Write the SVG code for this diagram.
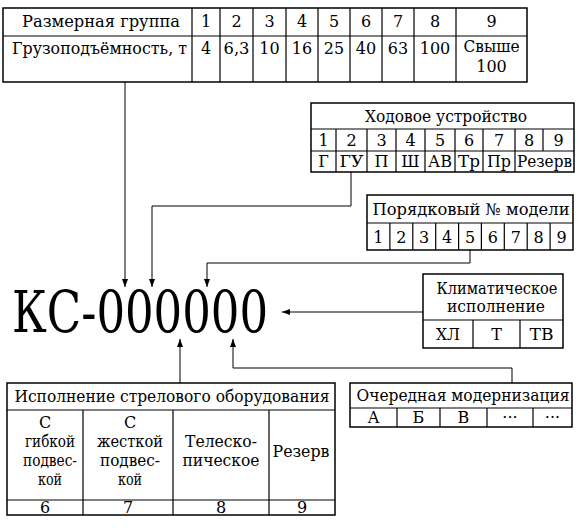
<svg xmlns="http://www.w3.org/2000/svg" width="580" height="531" viewBox="0 0 580 531">
<style>
.b{fill:none;stroke:#000;stroke-width:1.5}
.l{stroke:#000;stroke-width:1.2;fill:none}
.c{stroke:#000;stroke-width:1;fill:none}
text{font-family:"DejaVu Serif","Liberation Serif","Times New Roman",serif;font-size:16px;fill:#000;text-anchor:middle}
.s{text-anchor:start}
</style>
<defs>
<marker id="a" markerWidth="8" markerHeight="6" refX="8" refY="3" orient="auto" markerUnits="userSpaceOnUse">
<path d="M0,0 L8,3 L0,6 Z" fill="#000"/>
</marker>
</defs>
<rect width="580" height="531" fill="#fff"/>

<g id="size-group">
<rect class="b" x="3" y="8" width="524" height="74"/>
<line class="l" x1="3" y1="36" x2="527" y2="36"/>
<path class="l" d="M192,8V82M220,8V82M253,8V82M286,8V82M318,8V82M350,8V82M382,8V82M414,8V82M456,8V82"/>
<text class="s" x="22" y="27" textLength="158" lengthAdjust="spacingAndGlyphs">Размерная группа</text>
<text x="206" y="27">1</text><text x="236.5" y="27">2</text><text x="269.5" y="27">3</text><text x="302" y="27">4</text><text x="334" y="27">5</text><text x="366" y="27">6</text><text x="398" y="27">7</text><text x="435" y="27">8</text><text x="491.5" y="27">9</text>
<text class="s" x="12" y="54" textLength="175" lengthAdjust="spacingAndGlyphs">Грузоподъёмность, т</text>
<text x="206" y="54">4</text><text x="236.5" y="54" textLength="26" lengthAdjust="spacingAndGlyphs">6,3</text><text x="269.5" y="54">10</text><text x="302" y="54">16</text><text x="334" y="54">25</text><text x="366" y="54">40</text><text x="398" y="54">63</text><text x="435" y="54">100</text><text x="491.5" y="52" textLength="56" lengthAdjust="spacingAndGlyphs">Свыше</text><text x="491.5" y="72">100</text>
</g>

<g id="chassis">
<rect class="b" x="311" y="103" width="263" height="69"/>
<path class="l" d="M311,129H574M311,151H574"/>
<path class="l" d="M336,129V172M367,129V172M396,129V172M425,129V172M455,129V172M483,129V172M515,129V172M543,129V151"/>
<text x="446" y="122" textLength="162" lengthAdjust="spacingAndGlyphs">Ходовое устройство</text>
<text x="323.5" y="146">1</text><text x="351.5" y="146">2</text><text x="381.5" y="146">3</text><text x="410.5" y="146">4</text><text x="440" y="146">5</text><text x="469" y="146">6</text><text x="499" y="146">7</text><text x="529" y="146">8</text><text x="558.5" y="146">9</text>
<text x="323.5" y="167">Г</text><text x="351.5" y="167" textLength="24" lengthAdjust="spacingAndGlyphs">ГУ</text><text x="381.5" y="167">П</text><text x="410.5" y="167">Ш</text><text x="440" y="167" textLength="24" lengthAdjust="spacingAndGlyphs">АВ</text><text x="469" y="167" textLength="22" lengthAdjust="spacingAndGlyphs">Тр</text><text x="499" y="167" textLength="24" lengthAdjust="spacingAndGlyphs">Пр</text><text x="544.5" y="167" textLength="55" lengthAdjust="spacingAndGlyphs">Резерв</text>
</g>

<g id="model-number">
<rect class="b" x="367" y="195" width="206" height="55"/>
<line class="l" x1="367" y1="223" x2="573" y2="223"/>
<path class="l" d="M389.9,223V250M412.8,223V250M435.7,223V250M458.6,223V250M481.4,223V250M504.3,223V250M527.2,223V250M550.1,223V250"/>
<text x="471" y="215" textLength="197" lengthAdjust="spacingAndGlyphs">Порядковый № модели</text>
<text x="378.4" y="243">1</text><text x="401.3" y="243">2</text><text x="424.2" y="243">3</text><text x="447.1" y="243">4</text><text x="470" y="243">5</text><text x="492.9" y="243">6</text><text x="515.8" y="243">7</text><text x="538.7" y="243">8</text><text x="561.6" y="243">9</text>
</g>

<g id="climate">
<rect class="b" x="423" y="274" width="140" height="74"/>
<line class="l" x1="423" y1="320" x2="563" y2="320"/>
<path class="l" d="M473,320V348M520,320V348"/>
<text x="497" y="294" textLength="121" lengthAdjust="spacingAndGlyphs">Климатическое</text>
<text x="496" y="312" textLength="98" lengthAdjust="spacingAndGlyphs">исполнение</text>
<text x="448" y="340" textLength="24" lengthAdjust="spacingAndGlyphs">ХЛ</text><text x="496.5" y="340">Т</text><text x="541.5" y="340" textLength="24" lengthAdjust="spacingAndGlyphs">ТВ</text>
</g>

<g id="boom">
<rect class="b" x="7" y="383" width="328" height="132"/>
<path class="l" d="M7,410H335M7,500H335"/>
<path class="l" d="M83,410V515M173,410V515M269,410V515"/>
<text x="172" y="402" textLength="315" lengthAdjust="spacingAndGlyphs">Исполнение стрелового оборудования</text>
<text x="45" y="428">С</text><text x="50" y="447" textLength="50" lengthAdjust="spacingAndGlyphs">гибкой</text><text x="50" y="466" textLength="54" lengthAdjust="spacingAndGlyphs">подвес-</text><text x="50" y="485" textLength="24" lengthAdjust="spacingAndGlyphs">кой</text>
<text x="130" y="428">С</text><text x="130" y="447" textLength="66" lengthAdjust="spacingAndGlyphs">жесткой</text><text x="130" y="466" textLength="60" lengthAdjust="spacingAndGlyphs">подвес-</text><text x="130" y="485" textLength="24" lengthAdjust="spacingAndGlyphs">кой</text>
<text x="221" y="447" textLength="72" lengthAdjust="spacingAndGlyphs">Телеско-</text><text x="221" y="466" textLength="77" lengthAdjust="spacingAndGlyphs">пическое</text>
<text x="301" y="457" textLength="57" lengthAdjust="spacingAndGlyphs">Резерв</text>
<text x="45" y="513">6</text><text x="128" y="513">7</text><text x="221" y="513">8</text><text x="302" y="513">9</text>
</g>

<g id="modernization">
<rect class="b" x="350" y="383" width="222" height="44"/>
<line class="l" x1="350" y1="408" x2="572" y2="408"/>
<path class="l" d="M397,408V427M440,408V427M487,408V427M533,408V427"/>
<text x="463" y="401" textLength="213" lengthAdjust="spacingAndGlyphs">Очередная модернизация</text>
<text x="373.5" y="423">А</text><text x="418.5" y="423">Б</text><text x="463.5" y="423">В</text><text x="510" y="423">···</text><text x="552.5" y="423">···</text>
</g>

<g id="code">
<text class="s" x="12" y="332" style="font-size:57px" textLength="256" lengthAdjust="spacingAndGlyphs">КС-000000</text>
</g>

<g id="connectors">
<path class="c" d="M125,82V287" marker-end="url(#a)"/>
<path class="c" d="M351,172V206H152V287" marker-end="url(#a)"/>
<path class="c" d="M470,250V263H207V287" marker-end="url(#a)"/>
<path class="c" d="M423,312H282" marker-end="url(#a)"/>
<path class="c" d="M180,383V339" marker-end="url(#a)"/>
<path class="c" d="M512,383V368H233V339" marker-end="url(#a)"/>
</g>
</svg>
